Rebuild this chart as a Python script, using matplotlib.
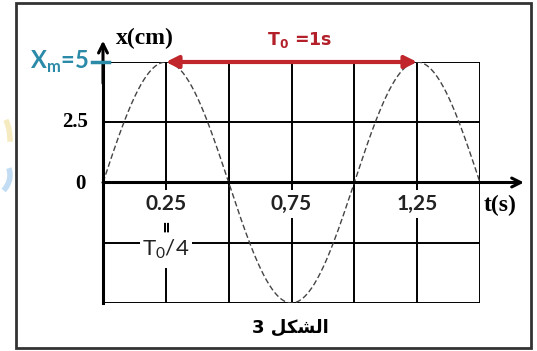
import numpy as np
import matplotlib
matplotlib.use("Agg")
import matplotlib.pyplot as plt
from matplotlib.patches import Rectangle, Arc

# Data
t_ticks = [0.25, 0.75, 1.25]
t_tick_labels = ["0.25", "0,75", "1,25"]
t_grid = [0.25, 0.5, 0.75, 1.0, 1.25, 1.5]
x_grid = [-5, -2.5, 2.5, 5]
amplitude = 5.0          # X_m in cm
period = 1.0             # T0 in s
t_end = 1.5
caption = "3 " + "\uFEDE\uFEDC\uFEB8\uFEDF\uFE8D"   # "الشكل 3" (shaped, visual order)

W, H = 537, 351
fig = plt.figure(figsize=(W / 100, H / 100), dpi=100)
fig.patch.set_facecolor("white")

# axes placed so that t=0..1.5 and x=-5..5 land on the printed grid
ax = fig.add_axes([103 / W, 1 - 303 / H, (480 - 103) / W, (303 - 62) / H])
ax.set_xlim(0, t_end)
ax.set_ylim(-amplitude, amplitude)
ax.axis("off")

# px -> data helpers (only used for label placement)
def tx(px):
    return (px - 103) * t_end / (480 - 103)

def xy(py):
    return amplitude - (py - 62) * 2 * amplitude / (303 - 62)

# outer frame
fig.patches.append(Rectangle((16 / W, 3 / H), (531 - 16) / W, (348 - 3) / H,
                             transform=fig.transFigure, fill=False,
                             edgecolor="#333333", lw=2))
# faint logo arcs outside the frame
fig.patches.append(Arc((-20 / W, 1 - 140 / H), 60 / W, 80 / H, theta1=-5, theta2=50,
                       transform=fig.transFigure, color="#f3e3a6", lw=4, alpha=0.7))
fig.patches.append(Arc((-20 / W, 1 - 175 / H), 60 / W, 50 / H, theta1=-45, theta2=20,
                       transform=fig.transFigure, color="#a9cfee", lw=4, alpha=0.7))

# grid
for tg in t_grid:
    ax.plot([tg, tg], [-amplitude, amplitude], color="black", lw=1.4, zorder=1)
for xg in x_grid:
    ax.plot([0, t_end], [xg, xg], color="black", lw=1.4, zorder=1)

# axes with arrows
ax.plot([0, 0], [-amplitude, amplitude], color="black", lw=2.2, zorder=3, clip_on=False)
ax.annotate("", xy=(0, 6.0), xytext=(0, 4.0),
            arrowprops=dict(arrowstyle="->", color="black", lw=2.2,
                            mutation_scale=16), annotation_clip=False)
ax.annotate("", xy=(1.675, 0), xytext=(0, 0),
            arrowprops=dict(arrowstyle="->", color="black", lw=2.2,
                            mutation_scale=16, shrinkA=0, shrinkB=0),
            annotation_clip=False)

# the oscillation x(t) = Xm sin(2 pi t / T0)
t = np.linspace(0, t_end, 400)
ax.plot(t, amplitude * np.sin(2 * np.pi * t / period), color="#444444",
        lw=1.0, linestyle=(0, (4, 2)), zorder=2)

# period arrow
ax.annotate("", xy=(1.25, amplitude), xytext=(0.25, amplitude),
            arrowprops=dict(arrowstyle="<|-|>", color="#c0262b", lw=3,
                            mutation_scale=18, shrinkA=0, shrinkB=0),
            annotation_clip=False, zorder=5)
ax.text(tx(300), xy(40), r"T$_\mathregular{0}$ =1s", color="#b3202a", fontsize=12.5,
        family="DejaVu Sans", fontweight="bold", ha="center", va="center",
        clip_on=False)

# axis labels
serif = "Liberation Serif"
ax.text(tx(116), xy(38), "x(cm)", family=serif, fontweight="bold", fontsize=17,
        ha="left", va="center", clip_on=False)
ax.text(tx(500), xy(205), "t(s)", family=serif, fontweight="bold", fontsize=17,
        ha="center", va="center", clip_on=False)
ax.text(tx(89), xy(62), r"X$_\mathregular{m}$=5", color="#2a8aa8", fontsize=17,
        family="Lato", fontweight="bold", ha="right", va="center",
        clip_on=False)
ax.plot([tx(92), tx(109)], [amplitude, amplitude], color="#2a8aa8", lw=2.5,
        zorder=4, clip_on=False)
ax.text(tx(88), xy(122), "2.5", family=serif, fontweight="bold", fontsize=15,
        ha="right", va="center", clip_on=False)
ax.text(tx(86), xy(184), "0", family=serif, fontweight="bold", fontsize=15,
        ha="right", va="center", clip_on=False)

# tick labels under the time axis
for tv, lab in zip(t_ticks, t_tick_labels):
    ax.text(tv, xy(204), lab, fontsize=15, family="Lato", fontweight="bold",
            color="#222222", ha="center", va="center", zorder=6,
            bbox=dict(facecolor="white", edgecolor="none", pad=2.5), clip_on=False)
# white gap in the 0.25 line under its label
ax.add_patch(Rectangle((tx(160), xy(268)), tx(172) - tx(160), xy(212) - xy(268),
                       facecolor="white", edgecolor="none", zorder=5))
ax.text(0.25, xy(249), r"T$_\mathregular{0}$/4", fontsize=16, family="Lato",
        color="#222222", ha="center", va="center", zorder=6,
        bbox=dict(facecolor="white", edgecolor="none", pad=2.0))
ax.text(0.25, xy(226), "=", fontsize=11, family="DejaVu Sans", fontweight="bold",
        rotation=90, ha="center", va="center", zorder=7)

# caption
fig.text(290 / W, 1 - 328 / H, caption, family="DejaVu Sans", fontweight="bold",
         fontsize=13, ha="center", va="center")

fig.savefig("out.png", dpi=100, facecolor="white")
